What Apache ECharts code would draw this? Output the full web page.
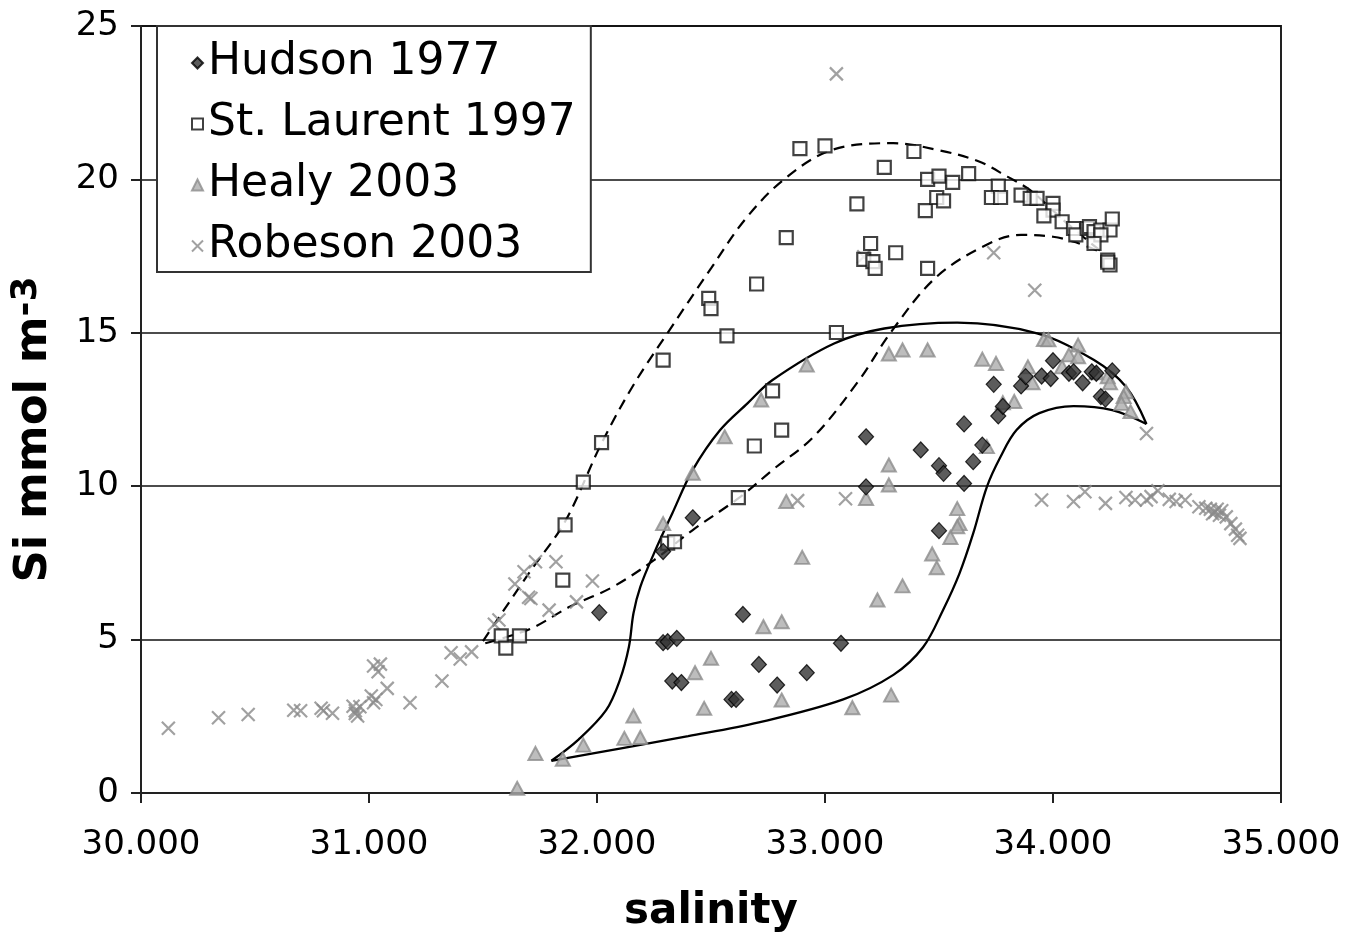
<!DOCTYPE html>
<html>
<head>
<meta charset="utf-8">
<script src="https://cdn.jsdelivr.net/npm/echarts@6/dist/echarts.min.js"></script>
<style>
html,body{margin:0;padding:0;background:#fff;}
#c{width:1346px;height:932px;}
</style>
</head>
<body>
<div id="c"></div>
<script>
// ---- data (salinity, Si) ----
const hudson1977 = [
[32.01,5.88],[32.29,7.87],[32.42,8.97],[32.29,4.90],[32.31,4.93],[32.35,5.04],[32.33,3.65],[32.37,3.60],
[32.59,3.05],[32.61,3.05],[32.64,5.82],[32.71,4.19],[32.79,3.52],[32.92,3.92],[33.07,4.88],[33.18,11.61],
[33.18,9.98],[33.42,11.18],[33.50,10.67],[33.52,10.42],[33.61,12.03],[33.61,10.09],[33.65,10.80],[33.69,11.34],
[33.74,13.32],[33.76,12.29],[33.78,12.60],[33.86,13.27],[33.88,13.57],[33.95,13.59],[33.99,13.51],[34.00,14.09],
[34.07,13.68],[34.09,13.73],[34.13,13.37],[34.17,13.73],[34.19,13.68],[34.21,12.92],[34.23,12.84],[34.26,13.76],
[33.50,8.55]
];
const stLaurent1997 = [
[31.58,5.12],[31.66,5.12],[31.60,4.72],[31.85,6.94],[31.86,8.74],[31.94,10.13],[32.02,11.42],[32.31,8.14],
[32.34,8.19],[32.62,9.63],[32.69,11.31],[32.81,11.83],[32.77,13.11],[32.29,14.11],[32.57,14.90],[33.05,15.01],
[32.49,16.12],[32.50,15.79],[32.70,16.59],[32.83,18.10],[32.89,21.00],[33.00,21.09],[33.26,20.39],[33.14,19.20],
[33.20,17.91],[33.17,17.39],[33.21,17.32],[33.22,17.10],[33.31,17.61],[33.39,20.91],[33.45,17.10],[33.45,20.00],
[33.50,20.11],[33.56,19.90],[33.63,20.19],[33.44,18.98],[33.49,19.41],[33.52,19.30],[33.76,19.78],[33.73,19.41],
[33.77,19.41],[33.86,19.49],[33.90,19.38],[33.93,19.38],[34.00,19.22],[34.00,19.00],[33.96,18.81],[34.04,18.62],
[34.09,18.40],[34.10,18.19],[34.15,18.40],[34.16,18.46],[34.18,18.30],[34.21,18.35],[34.25,18.35],[34.21,18.19],
[34.18,17.91],[34.26,18.71],[34.24,17.37],[34.25,17.21],[34.24,17.30]
];
const healy2003 = [
[31.65,0.15],[31.73,1.29],[31.85,1.10],[31.94,1.56],[32.16,2.51],[32.12,1.78],[32.19,1.81],[32.29,8.78],
[32.42,10.42],[32.56,11.61],[32.72,12.81],[32.50,4.39],[32.43,3.92],[32.47,2.76],[32.73,5.42],[32.81,5.58],
[32.81,3.03],[32.90,7.68],[32.83,9.50],[33.18,9.60],[33.12,2.78],[33.23,6.29],[32.92,13.95],[33.28,14.31],
[33.34,14.44],[33.45,14.44],[33.69,14.14],[33.75,14.00],[33.28,10.69],[33.28,10.04],[33.96,14.78],[33.98,14.77],
[34.11,14.60],[34.07,14.28],[34.11,14.22],[33.89,13.89],[33.91,13.37],[34.04,13.89],[34.19,13.70],[34.24,13.57],
[34.25,13.37],[34.32,13.08],[34.31,12.92],[34.30,12.70],[34.34,12.43],[33.78,12.72],[33.83,12.76],[33.71,11.29],
[33.58,9.27],[33.59,8.78],[33.58,8.68],[33.55,8.33],[33.47,7.79],[33.49,7.34],[33.34,6.75],[33.29,3.19]
];
const robeson2003 = [
[30.12,2.11],[30.34,2.45],[30.47,2.56],[30.67,2.70],[30.70,2.68],[30.79,2.76],[30.80,2.68],[30.84,2.60],
[30.93,2.83],[30.96,2.81],[30.94,2.68],[30.95,2.51],[30.94,2.59],[31.02,4.14],[31.05,4.20],[31.04,3.95],
[31.01,3.16],[31.03,3.05],[31.02,2.94],[31.08,3.41],[31.18,2.94],[31.32,3.65],[31.36,4.57],[31.40,4.37],
[31.45,4.60],[31.57,5.64],[31.55,5.50],[31.64,6.81],[31.68,7.21],[31.70,6.38],[31.73,7.54],[31.82,7.54],
[31.71,6.34],[31.79,5.96],[31.98,6.91],[31.91,6.23],[32.88,9.53],[33.09,9.59],[33.05,23.44],[33.74,17.61],
[33.17,17.48],[33.92,16.39],[34.41,11.72],[33.95,9.55],[34.09,9.50],[34.14,9.82],[34.23,9.44],[34.32,9.63],
[34.36,9.55],[34.41,9.55],[34.43,9.66],[34.46,9.85],[34.51,9.57],[34.54,9.50],[34.58,9.55],[34.64,9.33],
[34.67,9.28],[34.69,9.25],[34.71,9.15],[34.72,9.25],[34.73,9.05],[34.74,9.20],[34.70,9.10],[34.76,9.00],
[34.78,8.78],[34.80,8.60],[34.81,8.40],[34.82,8.30]
];
// hand-drawn envelope curves
const upperDashed = [
[31.50,4.95],[31.70,7.15],[31.86,8.85],[32.02,11.4],[32.16,13.3],[32.31,15.0],
[32.50,17.1],[32.65,18.7],[32.82,20.0],[33.03,20.96],[33.30,21.18],[33.50,20.95],[33.67,20.6],[33.80,20.09],
[33.90,19.65],[33.99,19.05],[34.08,18.45],[34.22,17.6]
];
const lowerDashed = [
[31.51,4.88],[31.71,5.36],[31.88,6.07],[32.07,6.72],[32.25,7.59],[32.42,8.57],[32.63,9.66],[32.77,10.53],
[32.95,11.61],[33.15,13.46],[33.29,15.03],[33.49,16.83],[33.72,17.91],[33.86,18.19],[34.00,18.13],[34.10,17.95],
[34.22,17.6]
];
const envelopeOuter = [
[31.80,1.05],[31.92,1.75],[32.04,2.7],[32.10,3.68],[32.14,4.77],[32.16,5.86],[32.19,6.72],[32.25,7.81],
[32.33,9.11],[32.42,10.53],[32.54,11.83],[32.66,12.70],[32.77,13.46],[33.04,14.65],[33.26,15.14],[33.58,15.33],
[33.93,14.98],[34.18,14.11],[34.32,13.24],[34.41,12.03]
];
const envelopeInner = [
[34.41,12.03],[34.26,12.48],[34.09,12.61],[33.94,12.38],[33.84,11.83],[33.77,10.96],[33.71,9.98],[33.65,8.46],
[33.59,7.16],[33.52,6.0],[33.43,4.75],[33.30,3.85],[33.08,3.05],[32.71,2.30],[32.40,1.85],
[32.10,1.45],[31.80,1.05]
];
const xTicks = [30,31,32,33,34,35];
const yTicks = [0,5,10,15,20,25];

const FONT = '"DejaVu Sans", Verdana, sans-serif';
const chart = echarts.init(document.getElementById('c'), null, {renderer:'canvas'});

function curve(data, dashed){
  return {
    type:'line', data:data, smooth:0.35, symbol:'none', silent:true, z:1,
    lineStyle:{color:'#000', width: dashed?2.2:2.3, type: dashed?[11,7]:'solid'},
    legendHoverLink:false
  };
}

chart.setOption({
  backgroundColor:'#fff',
  animation:false,
  grid:{left:141, right:65, top:26, bottom:139, show:true, borderColor:'#222', borderWidth:2,
        backgroundColor:'transparent', containLabel:false, outerBoundsMode:'none'},
  legend:{
    data:['Hudson 1977','St. Laurent 1997','Healy 2003','Robeson 2003'],
    orient:'vertical', left:157, top:26,
    padding:[12,15,1,34], itemGap:11, itemWidth:11, itemHeight:11,
    borderColor:'#333', borderWidth:2, borderRadius:0, backgroundColor:'#fff',
    textStyle:{fontFamily:FONT, fontSize:44, color:'#000', lineHeight:50}
  },
  xAxis:{
    type:'value', min:xTicks[0], max:xTicks[xTicks.length-1], interval:1,
    name:'salinity', nameLocation:'middle', nameGap:98,
    nameTextStyle:{fontFamily:FONT, fontSize:42, fontWeight:'bold', color:'#000'},
    axisLine:{show:true, lineStyle:{color:'#222', width:2}},
    axisTick:{show:true, inside:false, length:10, lineStyle:{color:'#222', width:2}},
    axisLabel:{fontFamily:FONT, fontSize:34, color:'#000', margin:35, formatter:v=>v.toFixed(3)},
    splitLine:{show:false}
  },
  yAxis:{
    type:'value', min:yTicks[0], max:yTicks[yTicks.length-1], interval:5,
    name:'{a|Si mmol m}{b|-3}', nameLocation:'middle', nameGap:82,
    nameTextStyle:{
      padding:[0,40,0,0],
      rich:{
        a:{fontFamily:FONT, fontSize:45, fontWeight:'bold', color:'#000', lineHeight:50},
        b:{fontFamily:FONT, fontSize:36, fontWeight:'bold', color:'#000', lineHeight:50, verticalAlign:'top', padding:[0,0,14,0]}
      }
    },
    axisLine:{show:true, lineStyle:{color:'#222', width:2}},
    axisTick:{show:true, inside:false, length:10, lineStyle:{color:'#222', width:2}},
    axisLabel:{fontFamily:FONT, fontSize:34, color:'#000', margin:22},
    splitLine:{show:true, lineStyle:{color:'#111', width:1.5}}
  },
  series:[
    curve(upperDashed,true),
    curve(lowerDashed,true),
    curve(envelopeOuter,false),
    curve(envelopeInner,false),
    {name:'Robeson 2003', type:'scatter', data:robeson2003, z:2,
     symbol:'path://M0,0L10,10M10,0L0,10', symbolSize:13,
     itemStyle:{color:'rgba(0,0,0,0)', borderColor:'#8a8a8a', borderWidth:2.2}},
    {name:'Healy 2003', type:'scatter', data:healy2003, z:3,
     symbol:'triangle', symbolSize:[14,13],
     itemStyle:{color:'#adadad', borderColor:'#8c8c8c', borderWidth:2}},
    {name:'St. Laurent 1997', type:'scatter', data:stLaurent1997, z:4,
     symbol:'rect', symbolSize:13,
     itemStyle:{color:'#fff', borderColor:'#111', borderWidth:2.2}},
    {name:'Hudson 1977', type:'scatter', data:hudson1977, z:5,
     symbol:'diamond', symbolSize:[15,16],
     itemStyle:{color:'#333', borderColor:'#000', borderWidth:1.2}}
  ]
});
</script>
</body>
</html>
